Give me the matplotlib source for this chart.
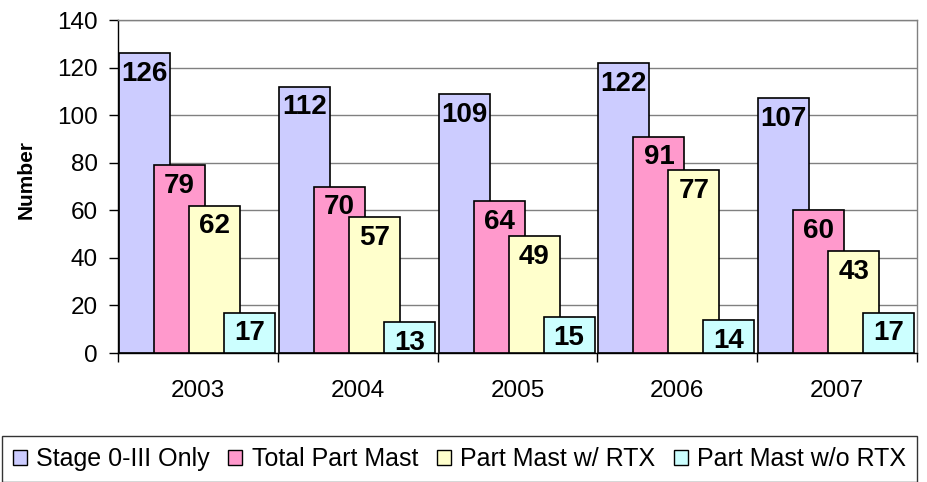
import matplotlib.pyplot as plt
import numpy as np

years = ["2003", "2004", "2005", "2006", "2007"]
series_names = ["Stage 0-III Only", "Total Part Mast", "Part Mast w/ RTX", "Part Mast w/o RTX"]
stage_only = [126, 112, 109, 122, 107]
total_part = [79, 70, 64, 91, 60]
part_rtx = [62, 57, 49, 77, 43]
part_no_rtx = [17, 13, 15, 14, 17]
colors = ["#CCCCFF", "#FF99CC", "#FFFFCC", "#CCFFFF"]

plt.rcParams['font.family'] = ['Liberation Sans', 'DejaVu Sans']

fig = plt.figure(figsize=(9.27, 4.82), dpi=100)
ax = fig.add_axes([118 / 927, (482 - 353) / 482, (917 - 118) / 927, (353 - 20) / 482])

values = [stage_only, total_part, part_rtx, part_no_rtx]
x = np.arange(len(years))
width = 0.32
step = 0.219
start = 0.006

for j, (vals, col, name) in enumerate(zip(values, colors, series_names)):
    ax.bar(x + start + j * step, vals, width=width, align='edge', color=col,
           edgecolor='black', linewidth=1.2, label=name, zorder=2 + j)

# value labels sit inside the top of each bar
for j, vals in enumerate(values):
    for i, v in enumerate(vals):
        ax.annotate(str(v), (i + start + j * step + width / 2, v), xytext=(0, -15),
                    textcoords='offset points', ha='center', va='center',
                    fontsize=20, fontweight='bold', zorder=10)

ax.set_xlim(0, 5)
ax.set_ylim(0, 140)
ax.set_yticks(np.arange(0, 141, 20))
ax.yaxis.grid(True, color='#808080', linewidth=1)
ax.set_axisbelow(True)

ax.set_xticks(x + 0.5)
ax.set_xticklabels(years)
ax.set_xticks(np.arange(0, 6), minor=True)
ax.tick_params(axis='x', which='major', length=0, pad=19.5, labelsize=17.5)
ax.tick_params(axis='x', which='minor', length=6.5, width=1, direction='out', color='black')
ax.tick_params(axis='y', length=6.5, width=1, direction='out', labelsize=17.5, pad=8)

ax.spines['top'].set_color('#808080')
ax.spines['right'].set_color('#808080')
ax.spines['left'].set_color('black')
ax.spines['bottom'].set_color('black')
for s in ax.spines.values():
    s.set_linewidth(1)

ax.set_ylabel("Number", fontsize=15, fontweight='bold', va='center')
ax.yaxis.set_label_coords(-0.115, 0.52)

leg = fig.legend(loc='center', bbox_to_anchor=(459.5 / 927, (482 - 459) / 482), ncol=4,
                 fontsize=18, frameon=True, fancybox=False, edgecolor='black',
                 handlelength=0.55, handleheight=0.55, handletextpad=0.38,
                 columnspacing=0.75, borderpad=0.45, borderaxespad=0)
leg.get_frame().set_linewidth(1)
for h in leg.legend_handles:
    h.set_linewidth(1)

fig.savefig("out.png", dpi=100, facecolor='white')
